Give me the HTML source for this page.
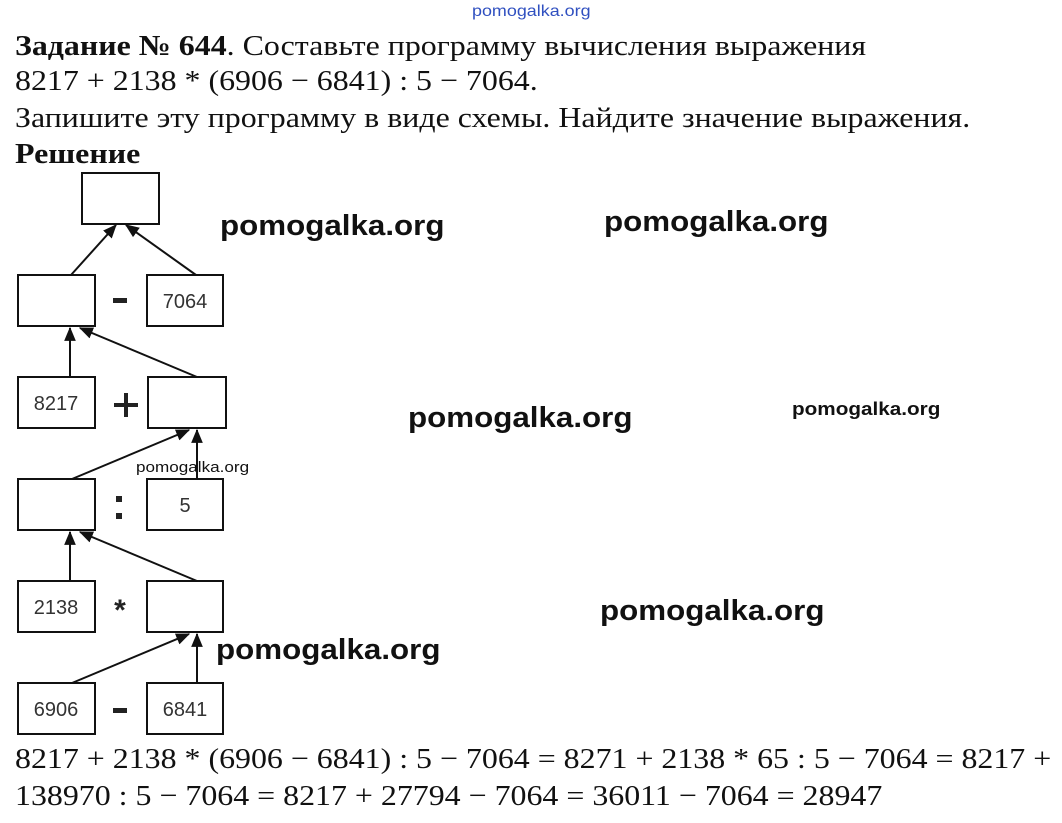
<!DOCTYPE html>
<html><head><meta charset="utf-8"><style>
body{margin:0;width:1062px;height:823px;background:#fff;position:relative;overflow:hidden;font-family:"Liberation Serif",serif;color:#111}
.t{position:absolute;left:15px;font-size:29px;white-space:nowrap;line-height:1;transform:scaleX(1.1);transform-origin:0 0}
.w{position:absolute;font-family:"Liberation Sans",sans-serif;font-weight:bold;font-size:29px;color:#111;white-space:nowrap;transform:scaleX(1.08);transform-origin:0 0}
.ws{position:absolute;font-family:"Liberation Sans",sans-serif;font-size:15px;white-space:nowrap;transform-origin:0 0}
</style></head><body>
<div class="ws" style="left:472px;top:3px;color:#3050c0;font-size:16px;transform:scaleX(1.12)">pomogalka.org</div>
<div class="t" style="top:32px"><b>Задание № 644</b>. Составьте программу вычисления выражения</div>
<div class="t" style="top:67px">8217 + 2138 * (6906 − 6841) : 5 − 7064.</div>
<div class="t" style="top:104px">Запишите эту программу в виде схемы. Найдите значение выражения.</div>
<div class="t" style="top:140px"><b>Решение</b></div>
<div class="t" style="top:745px">8217 + 2138 * (6906 − 6841) : 5 − 7064 = 8271 + 2138 * 65 : 5 − 7064 = 8217 +</div>
<div class="t" style="top:782px">138970 : 5 − 7064 = 8217 + 27794 − 7064 = 36011 − 7064 = 28947</div>
<svg width="1062" height="823" style="position:absolute;left:0;top:0">
<defs>
<marker id="b" viewBox="0 0 12 10" markerWidth="14" markerHeight="12" refX="11" refY="5" orient="auto" markerUnits="userSpaceOnUse"><path d="M0,0 L12,5 L0,10 z" fill="#111"/></marker></defs>
<g fill="#fff" stroke="#111" stroke-width="2">
<rect x="82" y="173" width="77" height="51"/>
<rect x="18" y="275" width="77" height="51"/><rect x="147" y="275" width="76" height="51"/>
<rect x="18" y="377" width="77" height="51"/><rect x="148" y="377" width="78" height="51"/>
<rect x="18" y="479" width="77" height="51"/><rect x="147" y="479" width="76" height="51"/>
<rect x="18" y="581" width="77" height="51"/><rect x="147" y="581" width="76" height="51"/>
<rect x="18" y="683" width="77" height="51"/><rect x="147" y="683" width="76" height="51"/>
</g>
<g stroke="#111" stroke-width="2" marker-end="url(#b)">
<line x1="71" y1="275" x2="116" y2="225"/><line x1="196" y1="275" x2="126" y2="225"/>
<line x1="70" y1="377" x2="70" y2="328"/><line x1="197" y1="377" x2="80" y2="328"/>
<line x1="72" y1="479" x2="189" y2="430"/><line x1="197" y1="479" x2="197" y2="430"/>
<line x1="70" y1="581" x2="70" y2="532"/><line x1="197" y1="581" x2="80" y2="532"/>
<line x1="72" y1="683" x2="189" y2="634"/><line x1="197" y1="683" x2="197" y2="634"/>
</g>
<g font-family="Liberation Sans,sans-serif" font-size="20" fill="#333" text-anchor="middle">
<text x="185" y="308">7064</text><text x="56" y="410">8217</text><text x="185" y="512">5</text>
<text x="56" y="614">2138</text><text x="56" y="716">6906</text><text x="185" y="716">6841</text>
</g>
<g fill="#222">
<rect x="113" y="298" width="14" height="5"/>
<rect x="114" y="403" width="24" height="4"/><rect x="124" y="393" width="4" height="24"/>
<rect x="116" y="496" width="6" height="6"/><rect x="116" y="513" width="6" height="6"/>
<rect x="113" y="708" width="14" height="5"/>
</g>
<text x="120" y="620" font-family="Liberation Sans,sans-serif" font-weight="bold" font-size="30" text-anchor="middle" fill="#222">*</text>
</svg>
<div class="w" style="left:220px;top:210px">pomogalka.org</div>
<div class="w" style="left:604px;top:206px">pomogalka.org</div>
<div class="w" style="left:408px;top:402px">pomogalka.org</div>
<div class="ws" style="left:792px;top:399px;font-weight:bold;font-size:18px;transform:scaleX(1.15)">pomogalka.org</div>
<div class="ws" style="left:136px;top:459px;transform:scaleX(1.14)">pomogalka.org</div>
<div class="w" style="left:600px;top:595px">pomogalka.org</div>
<div class="w" style="left:216px;top:634px">pomogalka.org</div>
</body></html>
